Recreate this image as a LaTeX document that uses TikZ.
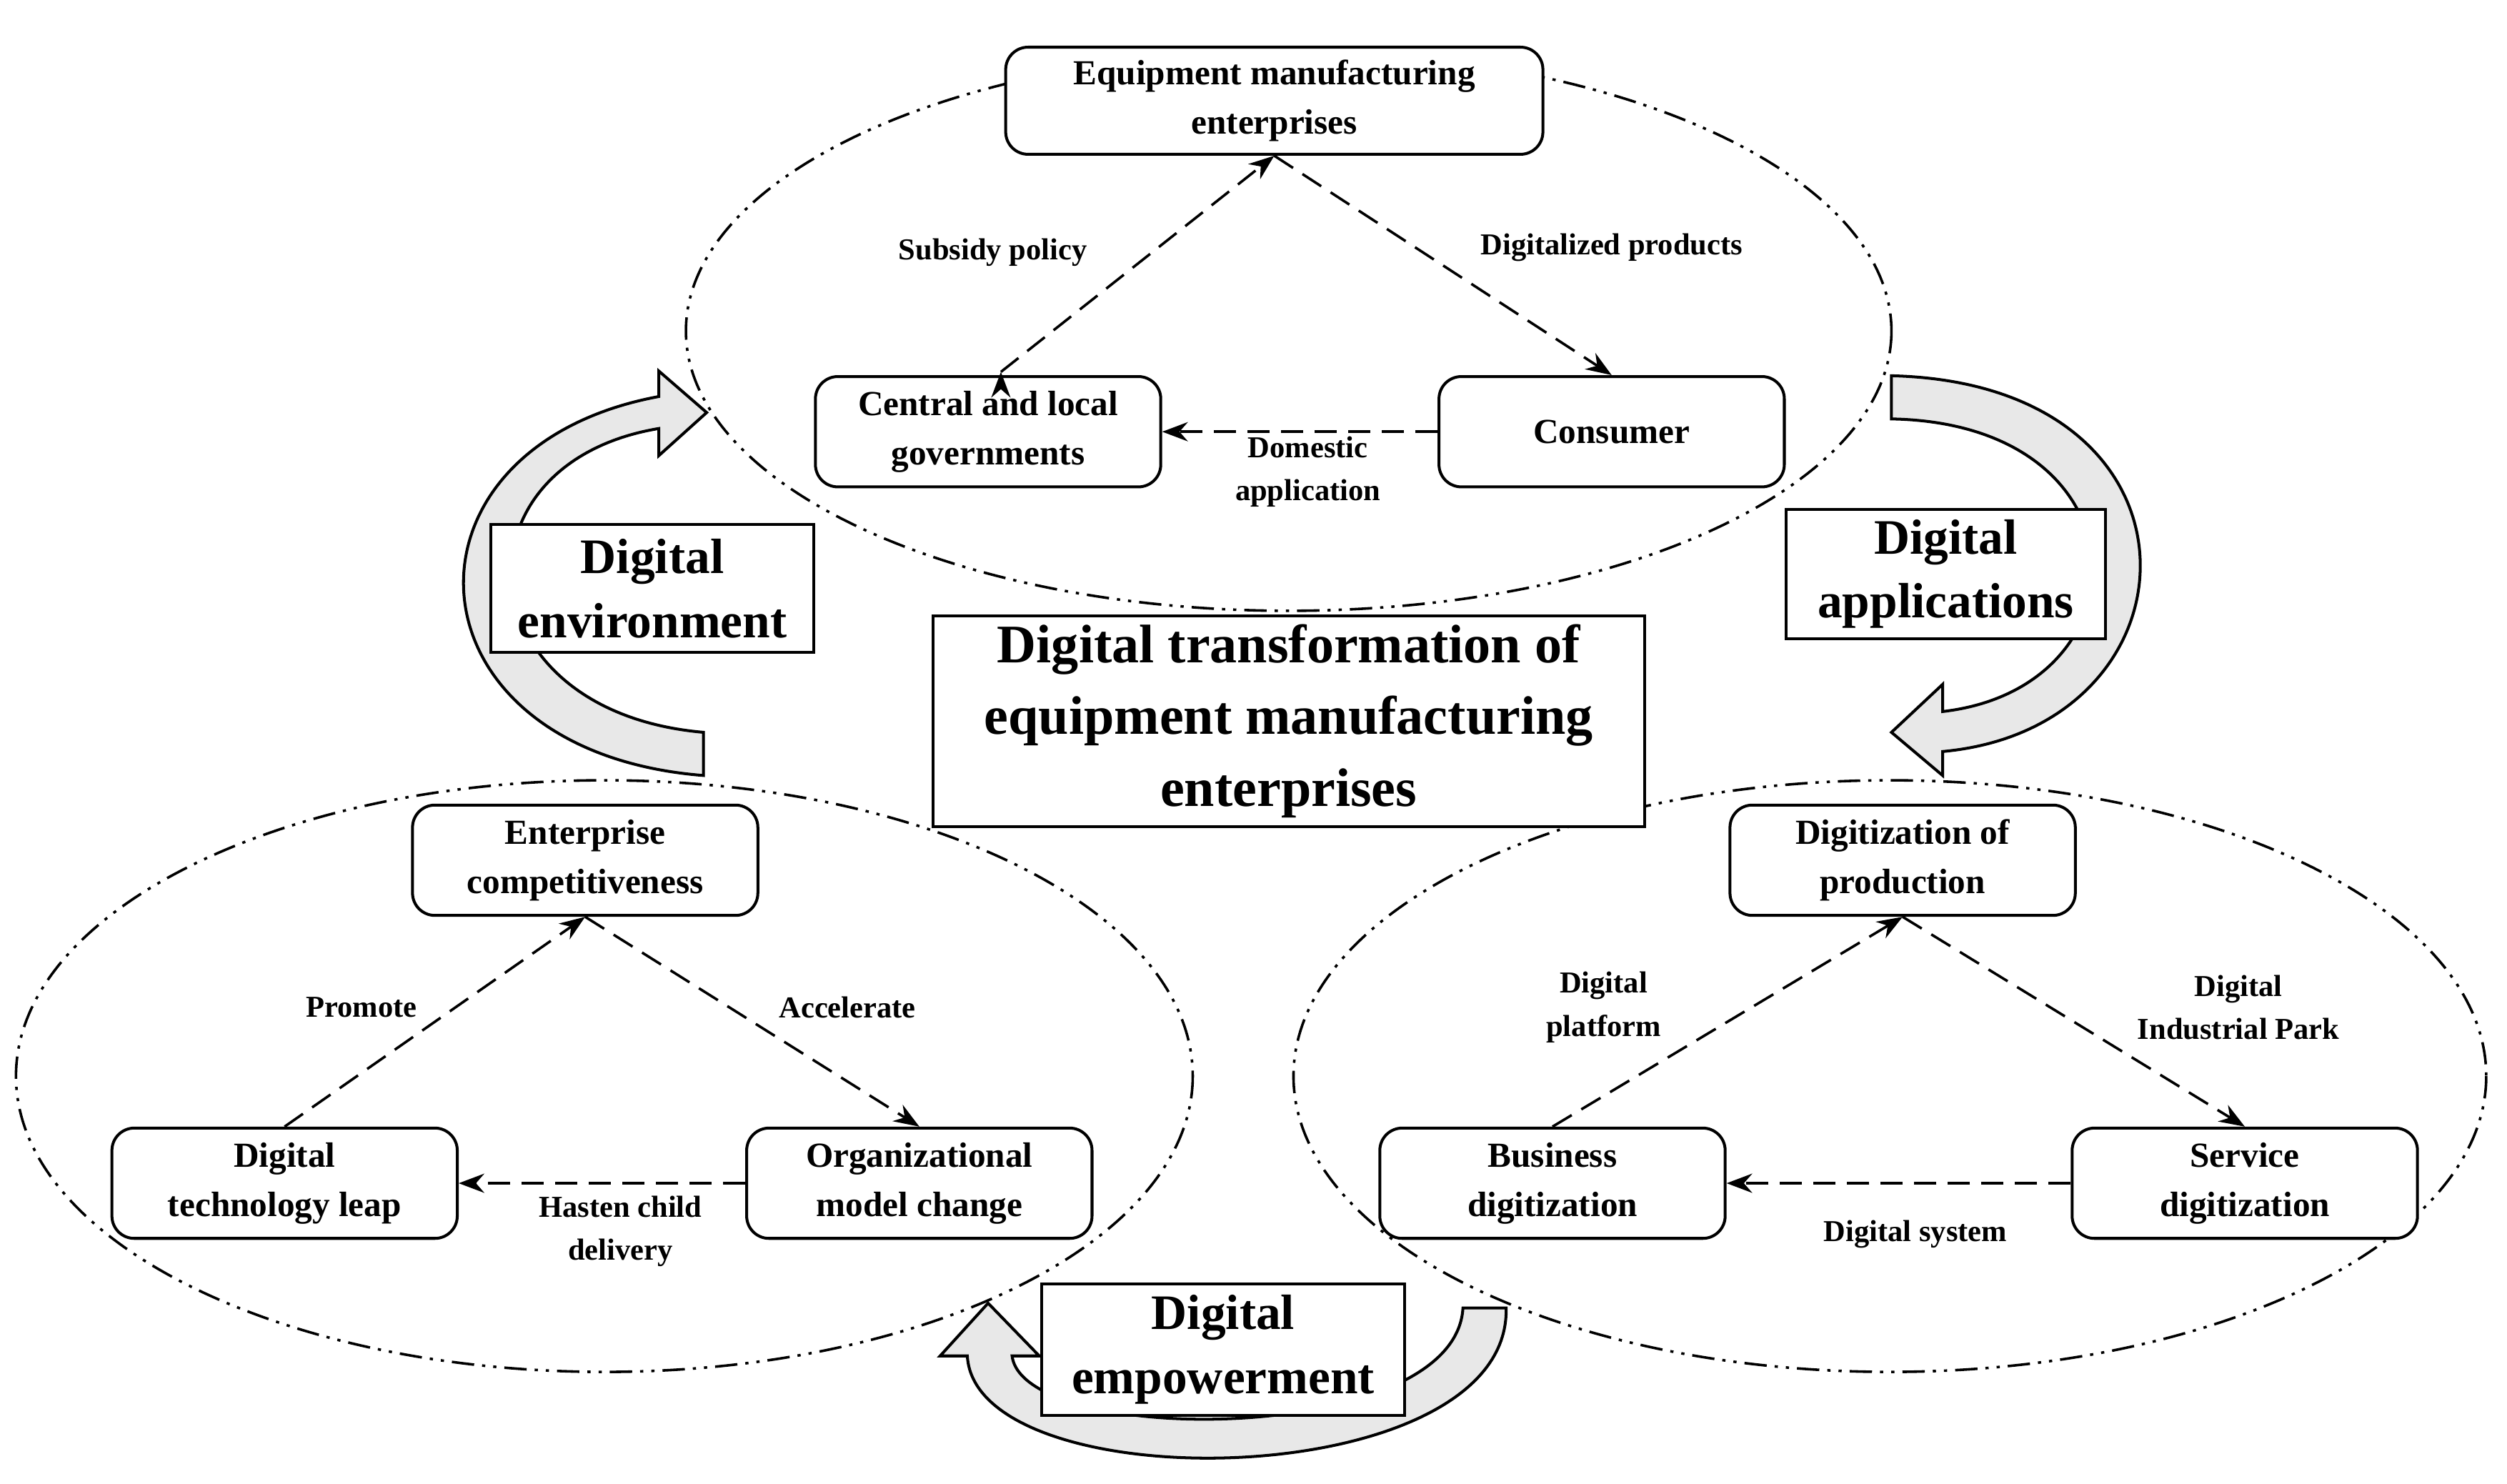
\documentclass[tikz,border=0pt]{standalone}
\usepackage{fontspec}
\setmainfont{Liberation Serif}
\usetikzlibrary{arrows.meta}
\begin{document}
\begin{tikzpicture}[x=1pt,y=-1pt,
 ell/.style={line width=1.6pt,dash pattern=on 14pt off 5pt on 2pt off 5pt on 2pt off 5pt},
 nd/.style={draw,line width=1.8pt,rounded corners=14pt,fill=white,minimum width=216pt,minimum height=69pt,align=center,font=\bfseries\fontsize{22}{31}\selectfont,inner sep=2pt},
 bx/.style={draw,line width=1.8pt,fill=white,align=center,font=\bfseries\fontsize{31}{40}\selectfont,inner sep=4pt},
 lb/.style={align=center,font=\bfseries\fontsize{19}{27}\selectfont},
 con/.style={line width=1.6pt,dash pattern=on 14pt off 7pt,-{Stealth[length=16pt,width=12pt]}},
 big/.style={line width=1.8pt,fill=gray!18}]
\useasboundingbox (0,0) rectangle (1568,928);
\fill[white] (0,0) rectangle (1568,928);
\draw[ell] (806,207) ellipse [x radius=377,y radius=175];
\draw[ell] (378,673) ellipse [x radius=368,y radius=185];
\draw[ell] (1182,673) ellipse [x radius=373,y radius=185];
% big arrows
\draw[big] (440,485) .. controls (250,470) and (240,280) .. (412,248) -- (412,232) -- (442,258) -- (412,285) -- (412,268) .. controls (280,290) and (290,445) .. (440,458) -- cycle;
\draw[big] (1183,235) .. controls (1390,240) and (1380,455) .. (1215,470) -- (1215,485) -- (1183,458) -- (1215,428) -- (1215,445) .. controls (1345,430) and (1345,265) .. (1183,262) -- cycle;
\draw[big] (942,818) .. controls (945,935) and (610,940) .. (605,848) -- (588,848) -- (618,815) -- (650,848) -- (633,848) .. controls (640,905) and (910,905) .. (915,818) -- cycle;
% nodes
\node[nd,minimum width=336pt,minimum height=67pt] (em) at (797,63) {Equipment manufacturing\\enterprises};
\node[nd] (gov) at (618,270) {Central and local\\governments};
\node[nd] (con) at (1008,270) {Consumer};
\node[nd] (ec) at (366,538) {Enterprise\\competitiveness};
\node[nd] (dt) at (178,740) {Digital\\technology leap};
\node[nd] (om) at (575,740) {Organizational\\model change};
\node[nd] (dp) at (1190,538) {Digitization of\\production};
\node[nd] (bd) at (971,740) {Business\\digitization};
\node[nd] (sd) at (1404,740) {Service\\digitization};
% boxes
\node[bx,minimum width=202pt,minimum height=80pt] (de) at (408,368) {Digital\\environment};
\node[bx,minimum width=200pt,minimum height=81pt] (da) at (1217,359) {Digital\\applications};
\node[bx,minimum width=445pt,minimum height=132pt,font=\bfseries\fontsize{34}{45}\selectfont] (tt) at (806,451) {Digital transformation of\\equipment manufacturing\\enterprises};
\node[bx,minimum width=227pt,minimum height=82pt] (dem) at (765,844) {Digital\\empowerment};
% connectors
\draw[con] (gov.north) ++(8,-2) coordinate (g1);
\draw[con] (g1) -- (em.south);
\draw[con] (em.south) -- (con.north);
\draw[con] (con.west) -- (gov.east);
\draw[con] (dt.north) -- (ec.south);
\draw[con] (ec.south) -- (om.north);
\draw[con] (om.west) -- (dt.east);
\draw[con] (bd.north) -- (dp.south);
\draw[con] (dp.south) -- (sd.north);
\draw[con] (sd.west) -- (bd.east);
% labels
\node[lb] at (621,158) {Subsidy policy};
\node[lb] at (1008,155) {Digitalized products};
\node[lb] at (818,295) {Domestic\\application};
\node[lb] at (226,630) {Promote};
\node[lb] at (530,630) {Accelerate};
\node[lb] at (388,770) {Hasten child\\delivery};
\node[lb] at (1003,630) {Digital\\platform};
\node[lb] at (1400,630) {Digital\\Industrial Park};
\node[lb] at (1198,772) {Digital system};
\end{tikzpicture}
\end{document}
